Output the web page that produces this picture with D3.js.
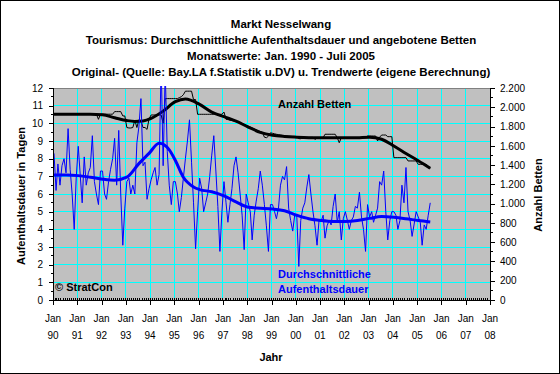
<!DOCTYPE html>
<html><head><meta charset="utf-8">
<script src="https://cdn.jsdelivr.net/npm/d3@7"></script>
<style>body{margin:0;background:#fff} svg{display:block} text{font-family:Arial,"Liberation Sans",sans-serif}</style>
</head><body><svg id="c" width="560" height="374"></svg>
<script>
const titleLines = [
  "Markt Nesselwang",
  "Tourismus: Durchschnittliche Aufenthaltsdauer und angebotene Betten",
  "Monatswerte: Jan. 1990 - Juli 2005",
  "Original- (Quelle: Bay.LA f.Statistik u.DV) u. Trendwerte (eigene Berechnung)"
];
const yearLabels = ["90","91","92","93","94","95","96","97","98","99","00","01","02","03","04","05","06","07","08"];
const leftTicks = [0,1,2,3,4,5,6,7,8,9,10,11,12];
const rightTicks = [0,200,400,600,800,1000,1200,1400,1600,1800,2000,2200];

// Durchschnittliche Aufenthaltsdauer (Tage), monthly Jan 1990 - Jul 2005
const dauer = [
  8.3, 6.2, 7.7, 6.5, 7.6, 8.0, 7.2, 9.7, 7.4, 6.0, 4.0, 6.9,
  8.7, 7.0, 5.5, 8.1, 6.5, 7.2, 7.5, 9.3, 6.7, 6.0, 5.4, 7.3,
  7.3, 6.0, 5.7, 6.7, 7.4, 8.0, 9.15, 6.5, 9.6, 6.0, 3.1, 5.2,
  6.7, 6.9, 6.0, 6.5, 6.0, 8.9, 9.8, 11.4, 7.6, 7.8, 5.7, 6.3,
  6.8, 7.2, 7.5, 6.5, 7.1, 13.5, 7.6, 13.0, 8.4, 6.5, 5.4, 6.7,
  6.7, 6.0, 5.0, 5.8, 6.9, 8.0, 9.0, 10.2, 7.8, 5.5, 2.9, 5.0,
  6.9, 6.3, 5.0, 5.5, 6.0, 7.0, 8.2, 9.3, 7.3, 5.3, 2.75, 5.0,
  6.7, 5.5, 4.4, 5.4, 6.3, 7.6, 8.1, 7.2, 6.0, 4.8, 2.85, 6.0,
  5.5, 5.0, 3.4, 4.8, 5.6, 6.3, 7.3, 6.5, 5.4, 4.2, 2.75, 5.4,
  5.4, 5.0, 4.6, 5.2, 6.5, 7.0, 6.8, 7.55, 5.2, 4.5, 3.9, 4.8,
  4.8, 1.9, 4.5, 5.2, 5.5, 6.4, 7.1, 6.0, 5.0, 4.2, 3.1, 4.5,
  4.45, 4.8, 3.5, 4.2, 4.5, 4.25, 5.3, 6.0, 4.4, 5.0, 3.4, 4.6,
  5.0, 4.5, 4.0, 4.5, 4.7, 5.3, 5.2, 6.1, 4.7, 4.0, 2.75, 5.4,
  4.7, 5.0, 4.4, 4.8, 5.2, 6.7, 6.5, 7.3, 5.0, 3.4, 4.5, 5.0,
  5.0, 4.8, 4.0, 4.5, 6.5, 5.5, 7.5, 5.0, 4.5, 3.6, 4.3, 5.0,
  4.7, 4.4, 3.1, 4.25, 4.0, 4.8, 5.5
];
// trend knots (month index from Jan 1990)
const dauerTrendMonths = [0,6,12,18,24,30,36,42,47,52,57,60,64,69,72,78,84,90,96,102,108,114,120,126,132,138,144,150,156,162,168,174,180,186];
const dauerTrend = [7.07,7.07,7.04,6.95,6.84,6.78,6.95,7.72,8.3,8.87,8.5,7.9,6.95,6.4,6.25,6.13,5.9,5.55,5.25,5.2,5.15,5.05,4.8,4.6,4.5,4.45,4.45,4.5,4.62,4.72,4.68,4.6,4.5,4.42];
// Anzahl Betten, monthly
const betten = [
  1928,1928,1928,1928,1928,1928,1928,1928,1928,1928,1928,1928,
  1928,1928,1928,1928,1928,1928,1928,1928,1928,1928,1875,1928,
  1928,1928,1928,1928,1928,1928,1955,1955,1955,1955,1910,1910,
  1790,1785,1785,1790,1865,1790,1870,1860,1790,1790,1770,1880,
  1920,1920,1920,1920,1920,1920,1834,2090,2090,2090,2090,2090,
  2090,2090,2100,2110,2130,2167,2167,2167,2167,2080,2080,1927,
  1927,1927,1927,1927,1927,1927,1927,1927,1927,1927,1927,1927,
  1950,1875,1872,1866,1862,1858,1853,1847,1840,1832,1824,1815,
  1805,1795,1785,1775,1765,1756,1748,1742,1690,1684,1700,1735,
  1730,1725,1720,1716,1712,1708,1705,1702,1700,1698,1696,1694,
  1692,1674,1674,1688,1688,1688,1688,1688,1688,1665,1685,1685,
  1685,1685,1720,1720,1720,1720,1720,1720,1685,1632,1685,1685,
  1685,1685,1685,1685,1685,1685,1685,1685,1685,1685,1685,1702,
  1702,1702,1702,1702,1650,1690,1712,1712,1712,1695,1695,1695,
  1477,1477,1477,1477,1477,1477,1477,1443,1443,1443,1443,1443,
  1408,1408,1408,1408,1408,1390,1367
];
const bettenTrendMonths = [0,6,12,18,24,30,36,40,44,48,54,60,65,72,78,84,90,96,102,108,114,120,126,132,138,144,150,156,162,168,174,180,186];
const bettenTrend = [1928,1928,1928,1928,1922,1892,1862,1853,1858,1885,1960,2058,2086,2030,1950,1902,1856,1795,1740,1710,1697,1690,1685,1683,1683,1683,1685,1690,1668,1598,1520,1445,1367];

const L=53, R=490, T=88, B=300;
const svg = d3.select("#c");
svg.append("rect").attr("x",0.5).attr("y",0.5).attr("width",559).attr("height",373)
  .attr("fill","#fff").attr("stroke","#000").attr("stroke-width",1);

const x = d3.scaleTime().domain([new Date(1990,0,1), new Date(2008,0,1)]).range([L,R]);
const yL = d3.scaleLinear().domain([0,12]).range([B,T]);
const yR = d3.scaleLinear().domain([0,2200]).range([B,T]);
const mDate = i => new Date(1990, i, 16);

// titles
const titleY = [24,40,56,72];
svg.selectAll("text.title").data(titleLines).join("text")
  .attr("class","title").attr("x",281).attr("y",(d,i)=>titleY[i]).attr("dy","0.35em")
  .attr("text-anchor","middle").attr("font-weight","bold").attr("font-size","11.5px").text(d=>d);

// plot area
svg.append("rect").attr("x",L).attr("y",T).attr("width",R-L).attr("height",B-T).attr("fill","#C0C0C0");
const grid = svg.append("g").attr("stroke","#00FFFF").attr("stroke-width",1).attr("shape-rendering","crispEdges");
grid.selectAll("line.h").data(leftTicks.slice(1,-1)).join("line")
  .attr("x1",L).attr("x2",R).attr("y1",d=>yL(d)).attr("y2",d=>yL(d));
const yearDates = yearLabels.map((d,i)=>new Date(1990+i,0,1));
grid.selectAll("line.v").data(yearDates.slice(1,-1)).join("line")
  .attr("y1",T).attr("y2",B).attr("x1",d=>x(d)).attr("x2",d=>x(d));
svg.append("line").attr("x1",L).attr("x2",R).attr("y1",T).attr("y2",T)
  .attr("stroke","#808080").attr("shape-rendering","crispEdges");

// clip
svg.append("clipPath").attr("id","clip").append("rect").attr("x",L).attr("y",T-2).attr("width",R-L).attr("height",B-T+2);
const plot = svg.append("g").attr("clip-path","url(#clip)");

const lineR = d3.line().x((d,i)=>x(mDate(i))).y(d=>yR(d));
const lineL = d3.line().x((d,i)=>x(mDate(i))).y(d=>yL(d));
const trendR = d3.line().x((d,i)=>x(mDate(bettenTrendMonths[i]))).y(d=>yR(d)).curve(d3.curveMonotoneX);
const trendL = d3.line().x((d,i)=>x(mDate(dauerTrendMonths[i]))).y(d=>yL(d)).curve(d3.curveMonotoneX);

plot.append("path").attr("d",lineR(betten)).attr("fill","none").attr("stroke","#000").attr("stroke-width",1);
plot.append("path").attr("d",trendR(bettenTrend)).attr("fill","none").attr("stroke","#000").attr("stroke-width",3);
plot.append("path").attr("d",lineL(dauer)).attr("fill","none").attr("stroke","#0000FF").attr("stroke-width",1);
plot.append("path").attr("d",trendL(dauerTrend)).attr("fill","none").attr("stroke","#0000FF").attr("stroke-width",3);

// axes
const axL = svg.append("g").attr("transform",`translate(${L},0)`)
  .call(d3.axisLeft(yL).tickValues(leftTicks).tickSize(4).tickPadding(6).tickFormat(d3.format("d")));
const axR = svg.append("g").attr("transform",`translate(${R},0)`)
  .call(d3.axisRight(yR).tickValues(rightTicks).tickSize(5).tickPadding(5)
    .tickFormat(d=>d3.format(",")(d).replace(",",".")));
const axB = svg.append("g").attr("transform",`translate(0,${B})`)
  .call(d3.axisBottom(x).tickValues(yearDates).tickSize(5).tickFormat(""));
[axL,axR,axB].forEach(a=>{
  a.select(".domain").attr("stroke","#000").attr("shape-rendering","crispEdges");
  a.selectAll(".tick line").attr("stroke","#000").attr("shape-rendering","crispEdges");
  a.selectAll("text").attr("font-size","10px").attr("fill","#000").attr("font-family","Arial, 'Liberation Sans', sans-serif");
});
axL.select(".domain").attr("d",`M0,${T}V${B}`);
axR.select(".domain").attr("d",`M0,${T}V${B}`);
axB.select(".domain").attr("d",`M${L},0H${R}`);
// minor ticks
const minorL = svg.append("g").attr("stroke","#000").attr("shape-rendering","crispEdges");
minorL.selectAll("line").data(leftTicks.slice(0,-1)).join("line")
  .attr("x1",L-2).attr("x2",L).attr("y1",d=>yL(d+0.5)).attr("y2",d=>yL(d+0.5));
minorL.append("g").selectAll("line").data(rightTicks.slice(0,-1)).join("line")
  .attr("x1",R).attr("x2",R+3).attr("y1",d=>yR(d+100)).attr("y2",d=>yR(d+100));
minorL.append("g").selectAll("line").data(d3.timeMonth.range(new Date(1990,0,1), new Date(2008,0,1))).join("line")
  .attr("x1",d=>x(d)).attr("x2",d=>x(d)).attr("y1",B-2).attr("y2",B+1);

// x labels
const xl = svg.append("g").attr("font-size","10px").attr("text-anchor","middle");
xl.selectAll("text.m").data(yearDates).join("text").attr("class","m")
  .attr("x",d=>x(d)).attr("y",318).attr("dy","0.35em").text("Jan");
xl.selectAll("text.y").data(yearLabels).join("text").attr("class","y")
  .attr("x",(d,i)=>x(yearDates[i])).attr("y",335).attr("dy","0.35em").text(d=>d);

// axis titles
svg.append("text").attr("x",271).attr("y",357).attr("dy","0.35em").attr("text-anchor","middle")
  .attr("font-weight","bold").attr("font-size","11px").text("Jahr");
svg.append("text").attr("transform","translate(21,196) rotate(-90)").attr("dy","0.35em").attr("text-anchor","middle")
  .attr("font-weight","bold").attr("font-size","11px").text("Aufenthaltsdauer in Tagen");
svg.append("text").attr("transform","translate(538,195) rotate(-90)").attr("dy","0.35em").attr("text-anchor","middle")
  .attr("font-weight","bold").attr("font-size","11px").text("Anzahl Betten");

// in-plot labels
svg.append("text").attr("x",278).attr("y",104).attr("dy","0.35em").attr("font-weight","bold")
  .attr("font-size","11px").attr("fill","#000").text("Anzahl Betten");
svg.append("text").attr("x",278).attr("y",274).attr("dy","0.35em").attr("font-weight","bold")
  .attr("font-size","11px").attr("fill","#0000FF").text("Durchschnittliche");
svg.append("text").attr("x",278).attr("y",289).attr("dy","0.35em").attr("font-weight","bold")
  .attr("font-size","11px").attr("fill","#0000FF").text("Aufenthaltsdauer");
svg.append("text").attr("x",55).attr("y",287).attr("dy","0.35em").attr("font-weight","bold")
  .attr("font-size","11px").attr("fill","#000").text("© StratCon");
</script></body></html>
